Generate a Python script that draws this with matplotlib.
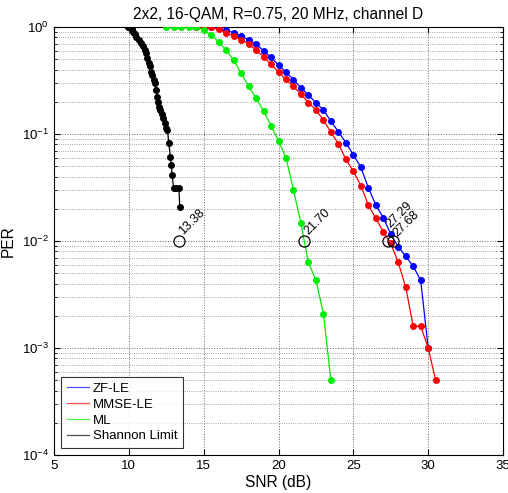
import numpy as np
import matplotlib
matplotlib.use("Agg")
import matplotlib.pyplot as plt
from matplotlib.ticker import LogLocator, NullFormatter, FixedLocator

plt.rcParams['font.family'] = ['Liberation Sans', 'DejaVu Sans']

title = "2x2, 16-QAM, R=0.75, 20 MHz, channel D"

zf_snr = [14.5, 15, 15.5, 16, 16.5, 17, 17.5, 18, 18.5, 19, 19.5, 20, 20.5, 21, 21.5,
          22, 22.5, 23, 23.5, 24, 24.5, 25, 25.5, 26, 26.5, 27, 27.5, 28, 28.5, 29, 29.5, 30]
zf_per = [1.0, 1.0, 0.995, 0.97, 0.93, 0.885, 0.824, 0.756, 0.694, 0.60, 0.52, 0.44, 0.378, 0.322, 0.271,
          0.231, 0.196, 0.168, 0.132, 0.105, 0.083, 0.064, 0.049, 0.0315, 0.0217, 0.0165, 0.0116, 0.0088,
          0.0072, 0.0058, 0.0043, 0.001]

mmse_snr = [14.5, 15, 15.5, 16, 16.5, 17, 17.5, 18, 18.5, 19, 19.5, 20, 20.5, 21, 21.5,
            22, 22.5, 23, 23.5, 24, 24.5, 25, 25.5, 26, 26.5, 27, 27.5, 28, 28.5, 29, 29.5, 30, 30.5]
mmse_per = [1.0, 1.0, 0.99, 0.95, 0.885, 0.82, 0.756, 0.694, 0.61, 0.527, 0.448, 0.38, 0.324, 0.278, 0.236,
            0.196, 0.168, 0.135, 0.104, 0.081, 0.058, 0.045, 0.033, 0.0217, 0.0163, 0.0122, 0.0095, 0.0063,
            0.0037, 0.0016, 0.0016, 0.001, 0.0005]

ml_snr = [12.5, 13, 13.5, 14, 14.5, 15, 15.5, 16, 16.5, 17, 17.5, 18, 18.5, 19, 19.5, 20, 20.5,
          21, 21.5, 22, 22.5, 23, 23.5]
ml_per = [1.0, 1.0, 1.0, 1.0, 0.995, 0.94, 0.84, 0.73, 0.61, 0.49, 0.37, 0.28, 0.216, 0.164, 0.12,
          0.086, 0.060, 0.030, 0.0146, 0.0063, 0.0043, 0.0021, 0.0005]

sh_snr = [9.95, 10.18, 10.29, 10.4, 10.51, 10.69, 10.84, 10.95, 11.07, 11.18, 11.24, 11.33, 11.4,
          11.51, 11.58, 11.67, 11.73, 11.8, 11.89, 11.95, 12.02, 12.11, 12.2, 12.29, 12.4, 12.51,
          12.58, 12.67, 12.78, 12.84, 12.89, 13.0, 13.18, 13.35, 13.4]
sh_per = [1.0, 0.95, 0.90, 0.86, 0.81, 0.76, 0.71, 0.66, 0.61, 0.57, 0.51, 0.46, 0.43,
          0.38, 0.356, 0.32, 0.30, 0.258, 0.223, 0.20, 0.18, 0.168, 0.154, 0.14, 0.126, 0.115,
          0.11, 0.082, 0.061, 0.051, 0.041, 0.031, 0.031, 0.031, 0.021]

marks_snr = [13.38, 21.70, 27.29, 27.68]
marks_lbl = ["13.38", "21.70", "27.29", "27.68"]
target_per = 1e-2

fig = plt.figure(figsize=(5.08, 4.93), dpi=100)
ax = fig.add_axes([54/508, 1-455/493, (503-54)/508, (455-27)/493])

ax.semilogy(zf_snr, zf_per, '-o', color='#0000ff', lw=0.9, ms=4.0, label='ZF-LE', zorder=3)
ax.semilogy(mmse_snr, mmse_per, '-o', color='#ff0000', lw=0.9, ms=4.0, label='MMSE-LE', zorder=3)
ax.semilogy(ml_snr, ml_per, '-o', color='#00ee00', lw=0.9, ms=4.0, label='ML', zorder=3)
ax.semilogy(sh_snr, sh_per, '-o', color='black', lw=0.9, ms=4.0, label='Shannon Limit', zorder=3)

offs = [(4.5, 2.5), (4.5, 2.5), (3.5, 8), (4, 1)]
for s, l, o in zip(marks_snr, marks_lbl, offs):
    ax.plot([s], [target_per], 'o', mfc='none', mec='black', ms=8, mew=0.9, zorder=4)
    ax.annotate(l, (s, target_per), xytext=o, textcoords='offset points',
                rotation=45, fontsize=9, ha='left', va='bottom', rotation_mode='anchor', zorder=5)

ax.set_xlim(5, 35)
ax.set_ylim(1e-4, 1)
ax.set_xticks([5, 10, 15, 20, 25, 30, 35])
ax.yaxis.set_major_locator(FixedLocator([1e-4, 1e-3, 1e-2, 1e-1, 1]))
ax.yaxis.set_minor_locator(LogLocator(base=10, subs=np.arange(2, 10)))
ax.yaxis.set_minor_formatter(NullFormatter())
ax.tick_params(which='both', direction='in', top=True, right=True, labelsize=9.5)
ax.tick_params(which='major', length=4)
ax.tick_params(which='minor', length=2)
ax.grid(True, which='major', linestyle=':', color='#666666', lw=0.7)
ax.grid(True, which='minor', axis='y', linestyle=':', color='#888888', lw=0.6)
for sp in ax.spines.values():
    sp.set_linewidth(0.8)

ax.set_title(title, fontsize=11.2, pad=6)
ax.set_xlabel("SNR (dB)", fontsize=11.2, labelpad=2)
ax.set_ylabel("PER", fontsize=11.2)
ax.yaxis.set_label_coords(-0.085, 0.5)

leg = ax.legend(loc='lower left', fontsize=9.5, frameon=True, fancybox=False,
                edgecolor='black', handlelength=1.7, handletextpad=0.3,
                borderaxespad=0.5, borderpad=0.45, labelspacing=0.28)
leg.get_frame().set_linewidth(0.8)
for h in leg.legend_handles:
    h.set_marker('')
    h.set_alpha(0.7)

fig.savefig("out.png", dpi=100)
